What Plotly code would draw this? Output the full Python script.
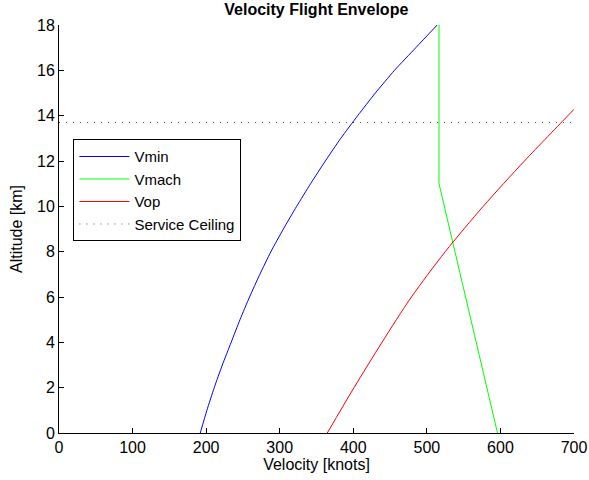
import plotly.graph_objects as go

# Altitude grid (km) and velocities (knots)
alt_min = [0, 1, 2, 3, 4, 5, 6, 7, 8, 9, 10, 11, 12, 13, 14, 15, 16, 17, 18]
vmin = [192, 201, 211, 222, 234, 246, 259, 273, 288, 305, 323, 342, 362, 383, 406, 430, 456, 485, 514]

alt_mach = [0, 11, 18]
vmach = [596, 516.5, 516.5]

alt_op = [0, 2, 4, 6, 8, 10, 12, 14, 14.28]
vop = [364.6, 401, 439, 479, 525, 576.6, 632.6, 691.7, 700]

ceiling_alt = 13.7
ceiling_x = [0, 700]

x_ticks = [0, 100, 200, 300, 400, 500, 600, 700]
y_ticks = [0, 2, 4, 6, 8, 10, 12, 14, 16, 18]

FONT = "Liberation Sans, Arial, Helvetica, sans-serif"

fig = go.Figure()
fig.add_trace(go.Scatter(x=vmin, y=alt_min, mode="lines", name="Vmin",
                         line=dict(color="#0000FF", width=1, shape="spline", smoothing=0.6)))
fig.add_trace(go.Scatter(x=vmach, y=alt_mach, mode="lines", name="Vmach",
                         line=dict(color="#00FF00", width=1)))
fig.add_trace(go.Scatter(x=vop, y=alt_op, mode="lines", name="Vop",
                         line=dict(color="#FF0000", width=1, shape="spline", smoothing=0.8)))
fig.add_trace(go.Scatter(x=ceiling_x, y=[ceiling_alt, ceiling_alt], mode="lines",
                         name="Service Ceiling",
                         line=dict(color="#555555", width=1, dash="1px,6px")))

axis_common = dict(showgrid=False, zeroline=False, showline=True, linecolor="black",
                   linewidth=1, ticks="inside", ticklen=5, tickcolor="black",
                   tickfont=dict(family=FONT, size=16, color="black"), mirror=False,
                   automargin=False)

fig.update_layout(
    width=589, height=480,
    margin=dict(l=59, r=15, t=25, b=47),
    paper_bgcolor="white", plot_bgcolor="white",
    font=dict(family=FONT, size=16, color="black"),
    title=dict(text="<b>Velocity Flight Envelope</b>", x=0.537, xanchor="center",
               y=1 - 9 / 480, yanchor="middle", yref="container",
               font=dict(family=FONT, size=16, color="black")),
    xaxis=dict(range=[0, 700], tickvals=x_ticks,
               title=dict(text="Velocity [knots]", standoff=2,
                          font=dict(family=FONT, size=16)), **axis_common),
    yaxis=dict(range=[0, 18], tickvals=y_ticks,
               title=dict(text="Altitude [km]", standoff=10,
                          font=dict(family=FONT, size=16)), **axis_common),
    legend=dict(x=0.028, y=0.72, xanchor="left", yanchor="top",
                bgcolor="white", bordercolor="black", borderwidth=1,
                font=dict(family=FONT, size=15, color="black"),
                tracegroupgap=0, itemwidth=50),
    showlegend=True,
)

fig.write_html("out.html")
